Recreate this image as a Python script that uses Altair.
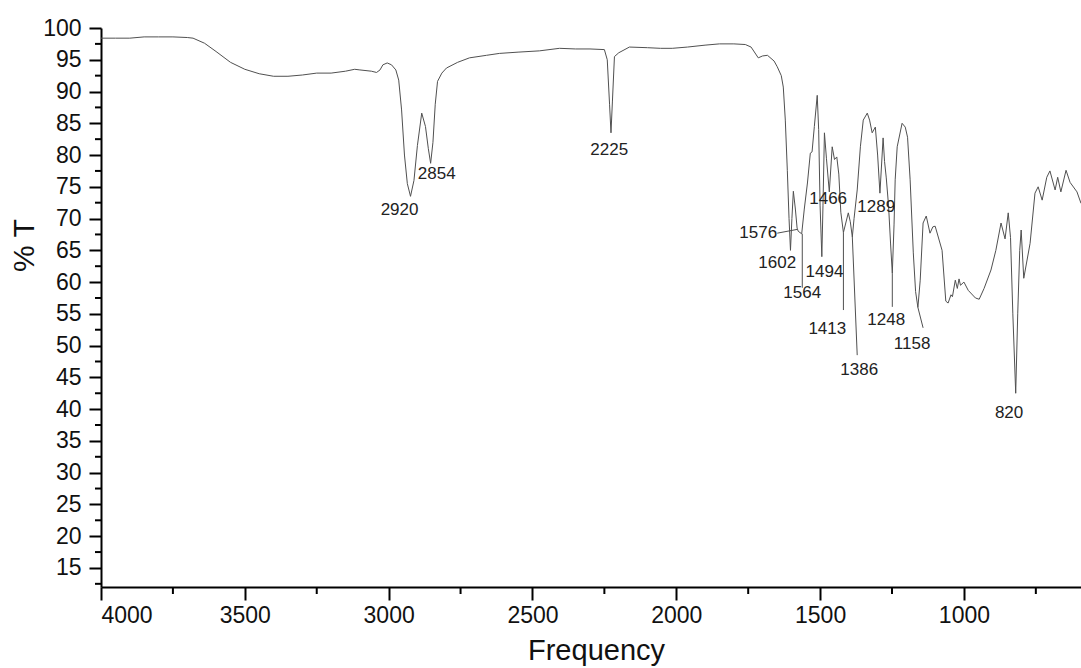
import altair as alt
import pandas as pd

# ---- spectrum trace (wavenumber, %T) ----
wn = [4000, 3950, 3900, 3850, 3800, 3750, 3700, 3680, 3640, 3600, 3550, 3500, 3450, 3400, 3350,
      3300, 3250, 3200, 3150, 3118, 3100, 3060, 3042, 3030, 3020, 3005, 2990, 2975, 2965, 2955,
      2945, 2935, 2924, 2912, 2900, 2885, 2872, 2862, 2854, 2846, 2838, 2830, 2815, 2799, 2760,
      2719, 2660, 2615, 2550, 2476, 2406, 2350, 2300, 2250, 2240, 2232, 2227, 2222, 2215, 2200,
      2163, 2100, 2055, 2014, 1961, 1900, 1850, 1800, 1760, 1740, 1715, 1700, 1683, 1660, 1649,
      1635, 1628, 1621, 1614, 1608, 1603, 1598, 1593, 1586, 1580, 1576, 1564, 1555, 1544, 1534,
      1528, 1520, 1510, 1505, 1500, 1494, 1490, 1485, 1478, 1468, 1458, 1450, 1442, 1435, 1428,
      1419, 1402, 1395, 1388, 1382, 1371, 1360, 1350, 1336, 1328, 1319, 1308, 1300, 1292, 1281,
      1276, 1270, 1262, 1255, 1249, 1243, 1239, 1232, 1215, 1204, 1196, 1187, 1176, 1168, 1160,
      1152, 1142, 1131, 1118, 1108, 1100, 1076, 1063, 1055, 1045, 1040, 1030, 1023, 1017, 1012,
      1000, 985, 960, 947, 930, 906, 889, 871, 857, 846, 838, 830, 820, 813, 806,
      801, 792, 770, 753, 742, 728, 712, 701, 683, 674, 663, 645, 631, 607, 593]
trans = [98.4, 98.4, 98.4, 98.6, 98.6, 98.6, 98.5, 98.4, 97.6, 96.3, 94.6, 93.5, 92.8, 92.4, 92.4,
         92.6, 92.9, 92.9, 93.2, 93.5, 93.4, 93.2, 93.0, 93.4, 94.2, 94.5, 94.2, 93.4, 91.8, 87.1,
         80.0, 75.5, 73.5, 76.0, 81.5, 86.6, 84.5, 81.0, 78.7, 82.0, 88.0, 91.6, 92.9, 93.7, 94.6,
         95.3, 95.7, 96.0, 96.2, 96.4, 96.8, 96.7, 96.7, 96.6, 95.0, 88.0, 83.5, 88.5, 95.5, 96.1,
         97.0, 96.9, 96.8, 96.8, 97.0, 97.3, 97.5, 97.5, 97.4, 97.0, 95.3, 95.6, 95.7, 94.8, 93.9,
         92.5, 90.7, 85.5, 77.6, 70.0, 65.0, 70.0, 74.3, 71.5, 68.5, 68.0, 67.6, 71.5, 75.6, 80.3,
         80.5, 84.5, 89.4, 84.0, 72.0, 64.0, 72.0, 83.5, 79.5, 74.2, 81.3, 79.3, 79.7, 77.0, 71.0,
         67.8, 70.9, 69.5, 67.1, 70.0, 74.5, 81.3, 85.5, 86.6, 85.5, 83.5, 84.4, 80.0, 74.0, 82.7,
         79.0, 76.4, 72.0, 66.0, 61.4, 69.0, 76.1, 81.3, 85.0, 84.4, 82.8, 76.1, 64.6, 58.5, 56.0,
         60.3, 69.3, 70.4, 67.7, 68.7, 68.8, 65.0, 57.0, 56.7, 58.0, 57.7, 60.3, 59.0, 60.5, 59.5,
         60.0, 58.7, 57.5, 57.3, 59.0, 61.9, 65.0, 69.3, 66.8, 70.9, 67.0, 55.0, 42.5, 55.0, 65.0,
         68.2, 60.6, 66.1, 74.0, 75.0, 72.9, 76.5, 77.5, 74.5, 76.5, 74.2, 77.6, 75.7, 74.2, 72.4]

# ---- peak labels ----
peak_text = ["2920", "2854", "2225", "1576", "1602", "1494", "1564", "1466", "1289",
             "1413", "1386", "1248", "1158", "820"]
peak_lx = [2962, 2833, 2233, 1715, 1649, 1485, 1562, 1472, 1305, 1475, 1364, 1270, 1180, 843]
peak_ly = [71.3, 77.0, 80.8, 67.7, 63.0, 61.6, 58.3, 73.1, 71.8, 52.6, 46.1, 54.0, 50.2, 39.4]

# ---- leader lines from peaks to labels ----
lead_x1 = [1649, 1562, 1419, 1388, 1249, 1160]
lead_y1 = [67.7, 67.6, 67.8, 67.1, 61.4, 56.0]
lead_x2 = [1579, 1562, 1419, 1371, 1249, 1142]
lead_y2 = [68.3, 59.1, 55.6, 48.5, 56.1, 52.8]

# ---- axis ticks ----
x_major = [4000, 3500, 3000, 2500, 2000, 1500, 1000]
x_minor = [3750, 3250, 2750, 2250, 1750, 1250, 750]
y_major = list(range(15, 101, 5))
y_minor = [12.5 + 5 * i for i in range(18)]

FONT = "Liberation Sans"
W, H = 980, 559

spec = pd.DataFrame({"wn": wn, "T": trans, "idx": list(range(len(wn)))})
labels = pd.DataFrame({"x": peak_lx, "y": peak_ly, "t": peak_text})
leads = pd.DataFrame({"x": lead_x1, "y": lead_y1, "x2": lead_x2, "y2": lead_y2})
xm = pd.DataFrame({"v": x_minor})
ym = pd.DataFrame({"v": y_minor})

xs = alt.Scale(domain=[593, 4000], reverse=True, nice=False, zero=False)
ys = alt.Scale(domain=[12, 100], nice=False, zero=False)

x_axis = alt.Axis(
    values=x_major, format="d", title="Frequency", grid=False,
    labelFont=FONT, labelFontSize=23, labelColor="#111", labelPadding=4,
    tickSize=13, tickWidth=2, tickColor="black", domainColor="black", domainWidth=2,
    titleFont=FONT, titleFontSize=29, titleFontWeight="normal", titleColor="#111",
    titleX=495, titleY=72, titleBaseline="alphabetic", titleAlign="center")
y_axis = alt.Axis(
    values=y_major, format="d", title="% T", grid=False,
    labelFont=FONT, labelFontSize=23, labelColor="#111", labelPadding=8,
    tickSize=12, tickWidth=2, tickColor="black", domainColor="black", domainWidth=2,
    titleFont=FONT, titleFontSize=30, titleFontWeight="normal", titleColor="#111",
    titleX=-68, titleY=217, titleAngle=270, titleBaseline="alphabetic", titleAlign="center")

line = alt.Chart(spec).mark_line(color="#505050", strokeWidth=1).encode(
    x=alt.X("wn:Q", scale=xs, axis=x_axis),
    y=alt.Y("T:Q", scale=ys, axis=y_axis),
    order="idx:Q",
)

leader = alt.Chart(leads).mark_rule(color="#505050", strokeWidth=1).encode(
    x=alt.X("x:Q", scale=xs, axis=x_axis), y=alt.Y("y:Q", scale=ys, axis=y_axis),
    x2="x2:Q", y2="y2:Q")

text = alt.Chart(labels).mark_text(font=FONT, fontSize=17, color="#222",
                                   align="center", baseline="middle").encode(
    x=alt.X("x:Q", scale=xs, axis=x_axis), y=alt.Y("y:Q", scale=ys, axis=y_axis), text="t:N")

xminor = alt.Chart(xm).mark_rule(color="black", strokeWidth=2).encode(
    x=alt.X("v:Q", scale=xs, axis=x_axis), y=alt.value(H), y2=alt.value(H + 7))

yminor = alt.Chart(ym).mark_rule(color="black", strokeWidth=2).encode(
    y=alt.Y("v:Q", scale=ys, axis=y_axis), x=alt.value(0), x2=alt.value(-6))

chart = alt.layer(line, leader, text, xminor, yminor).properties(
    width=W, height=H,
    background="white",
    autosize=alt.AutoSizeParams(type="none"),
    padding={"left": 101, "top": 28, "right": 0, "bottom": 81},
).configure_view(stroke=None)

chart.save("out.html", embed_options={"renderer": "svg", "actions": False})
